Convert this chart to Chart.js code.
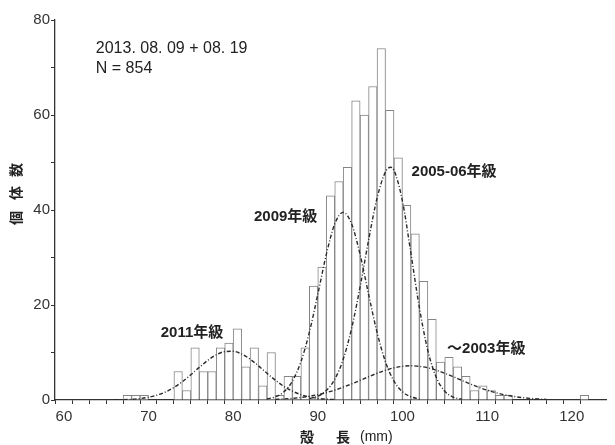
<!DOCTYPE html>
<html><head><meta charset="utf-8">
<script src="https://cdn.jsdelivr.net/npm/chart.js@4/dist/chart.umd.min.js"></script>
<style>html,body{margin:0;padding:0;background:#fff}#wrap{width:615px;height:445px}</style>
</head><body><div id="wrap"><canvas id="c" width="615" height="445"></canvas></div>
<script>
// Histogram bins (shell length, mm; bin n covers n..n+1)
const binStarts = [60,61,62,63,64,65,66,67,68,69,70,71,72,73,74,75,76,77,78,79,80,81,82,83,84,85,86,87,88,89,90,91,92,93,94,95,96,97,98,99,100,101,102,103,104,105,106,107,108,109,110,111,112,113,114,115,116,117,118,119,120,121,122];
const counts    = [0,0,0,0,0,0,0,1,1,1,0,0,0,6,2,11,6,6,11,12,15,7,11,3,10,1,5,5,11,24,28,43,46,49,63,60,66,74,61,51,41,35,25,17,8,9,7,5,2,3,2,1,1,0,0,0,0,0,0,0,0,1,0];

// Fitted cohort curves
const c2011X = [66,67,68,69,70,71,72,73,74,75,76,77,78,79,80,81,82,83,84,85,86,87,88,89,90,91,92];
const c2011Y = [0.03,0.07,0.15,0.31,0.58,1.02,1.69,2.64,3.86,5.31,6.87,8.34,9.51,10.19,10.25,9.69,8.6,7.18,5.62,4.14,2.86,1.86,1.14,0.65,0.35,0.18,0.08];
const c2009X = [84,85,86,87,88,89,90,91,92,93,94,95,96,97,98,99,100,101,102];
const c2009Y = [0.22,0.67,1.73,3.98,8.02,14.24,22.25,30.6,37.06,39.5,37.06,30.6,22.25,14.24,8.02,3.98,1.73,0.67,0.22];
const c2005X = [89,90,91,92,93,94,95,96,97,98,98.6,99,100,101,102,103,104,105,106,107];
const c2005Y = [0.29,0.8,1.98,4.36,8.58,15.12,23.85,33.66,42.5,48.03,49,48.38,41.89,30.9,19.44,10.41,4.75,1.85,0.61,0.17];
const c2003X = [85,86,87,88,89,90,91,92,93,94,95,96,97,98,99,100,101,102,103,104,105,106,107,108,109,110,111,112,113,114,115,116,117];
const c2003Y = [0.14,0.23,0.35,0.53,0.79,1.12,1.55,2.07,2.69,3.39,4.14,4.9,5.63,6.27,6.77,7.09,7.2,7.09,6.77,6.27,5.63,4.9,4.14,3.39,2.69,2.07,1.55,1.12,0.79,0.53,0.35,0.23,0.14];

const cohortLabels = ['2011年級','2009年級','2005-06年級','～2003年級'];
const headerLines = ['2013. 08. 09 + 08. 19','N = 854'];
const xTitle = ['殻','長','(mm)'];
const yTitle = ['個','体','数'];

const pts = (xs, ys) => xs.map((x,i)=>({x:x, y:ys[i]}));
const curveStyle = {type:'line', borderColor:'#2a2a2a', borderWidth:1.4, borderDash:[4,2,1,2], pointRadius:0, cubicInterpolationMode:'monotone', fill:false, order:1};

const textPlugin = {
  id:'texts',
  afterDatasetsDraw(chart){
    const ctx = chart.ctx, xs = chart.scales.x, ys = chart.scales.y;
    ctx.save();
    ctx.fillStyle = '#222';
    ctx.textBaseline = 'middle';
    // header
    ctx.font = '16px "Liberation Sans", Arial, sans-serif';
    ctx.textAlign = 'left';
    ctx.fillText(headerLines[0], xs.getPixelForValue(63.77), ys.getPixelForValue(73.9));
    ctx.fillText(headerLines[1], xs.getPixelForValue(63.77), ys.getPixelForValue(69.7));
    // cohort labels
    ctx.font = 'bold 15px "Liberation Sans", "Noto Sans CJK JP", sans-serif';
    ctx.textAlign = 'center';
    const pos = [[75.14,14.1],[86.2,38.5],[106.1,48.0],[109.9,10.7]];
    cohortLabels.forEach((t,i)=>ctx.fillText(t, xs.getPixelForValue(pos[i][0]), ys.getPixelForValue(pos[i][1])));
    // x title
    ctx.font = 'bold 14px "Noto Sans CJK JP", sans-serif';
    ctx.fillText(xTitle[0], 307, 437);
    ctx.fillText(xTitle[1], 343, 437);
    ctx.font = '14px "Liberation Sans", Arial, sans-serif';
    ctx.textAlign = 'left';
    ctx.fillText(xTitle[2], 360, 437);
    // y title (rotated)
    ctx.font = 'bold 14px "Noto Sans CJK JP", sans-serif';
    ctx.textAlign = 'center';
    const yy = [218,193,170];
    yTitle.forEach((t,i)=>{ ctx.save(); ctx.translate(16, yy[i]); ctx.rotate(-Math.PI/2); ctx.fillText(t,0,0); ctx.restore(); });
    ctx.restore();
  }
};

new Chart(document.getElementById('c'), {
  type:'bar',
  data:{ datasets:[
    {type:'bar', data: pts(binStarts.map(b=>b+0.5), counts), backgroundColor:'#ffffff', borderColor:'#858585', borderWidth:1, barPercentage:1, categoryPercentage:1, order:10},
    Object.assign({data: pts(c2011X,c2011Y)}, curveStyle),
    Object.assign({data: pts(c2009X,c2009Y)}, curveStyle),
    Object.assign({data: pts(c2005X,c2005Y)}, curveStyle),
    Object.assign({data: pts(c2003X,c2003Y)}, curveStyle)
  ]},
  options:{
    responsive:false, animation:false, devicePixelRatio:1,
    layout:{padding:{top:20,right:9,left:0,bottom:0}},
    plugins:{legend:{display:false}, tooltip:{enabled:false}},
    scales:{
      x:{type:'linear', min:60, max:123,
        afterBuildTicks:s=>{ s.ticks = s.ticks.filter(t=>t.value%2===0); },
        afterFit:s=>{ s.height = 45; },
        ticks:{stepSize:2, autoSkip:false, maxRotation:0, padding:4, color:'#333',
          font:{family:'"Liberation Sans", Arial, sans-serif', size:15},
          callback:v=> v%10===0 ? String(v) : ''},
        grid:{drawOnChartArea:false, drawTicks:true, tickLength:4, tickColor:'#333'},
        border:{color:'#333', width:1.3}},
      y:{min:0, max:80,
        afterFit:s=>{ s.width = 55; },
        ticks:{stepSize:10, padding:1, color:'#333',
          font:{family:'"Liberation Sans", Arial, sans-serif', size:15},
          callback:v=> v%20===0 ? String(v) : ''},
        grid:{drawOnChartArea:false, drawTicks:true, tickLength:4, tickColor:'#333'},
        border:{color:'#333', width:1.3}}
    }
  },
  plugins:[textPlugin]
});
</script></body></html>
